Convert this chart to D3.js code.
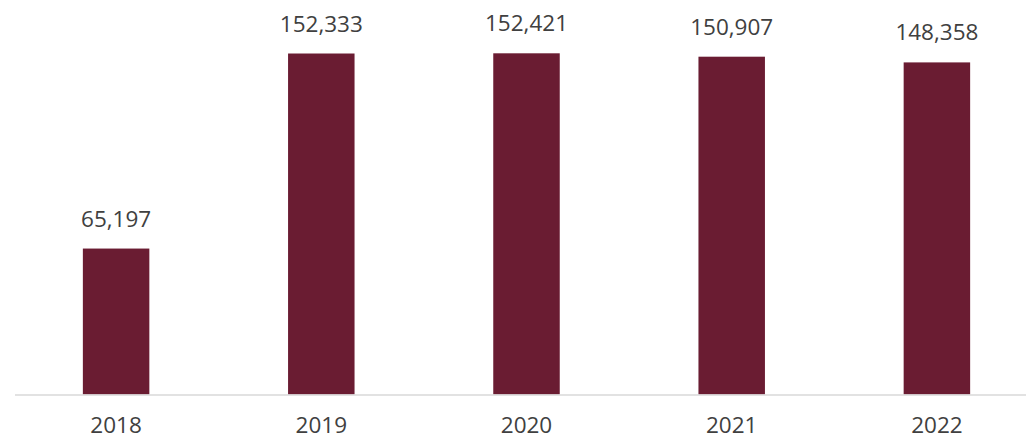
<!DOCTYPE html>
<html>
<head>
<meta charset="utf-8">
<script src="https://cdn.jsdelivr.net/npm/d3@7"></script>
<style>
  html, body { margin: 0; padding: 0; background: #fff; }
  svg { display: block; }
</style>
</head>
<body>
<div id="chart"></div>
<script>
const years = ['2018', '2019', '2020', '2021', '2022'];
const totals = [65197, 152333, 152421, 150907, 148358];

const width = 1026, height = 438;
const baseY = 394.5;

const svg = d3.select('#chart').append('svg')
    .attr('width', width)
    .attr('height', height);

// the plot runs a bit past the right edge, like the reference crop
let x = d3.scaleBand()
    .domain(years)
    .range([13.5, 1039.5])
    .paddingInner(0.676)
    .paddingOuter(0.338);

let y = d3.scaleLinear()
    .domain([0, 152421])
    .range([baseY, baseY - 152421 * 0.0022385]);

const data = years.map((yr, i) => ({year: yr, value: totals[i]}));

svg.selectAll('rect.bar')
    .data(data)
    .enter().append('rect')
    .attr('class', 'bar')
    .attr('x', d => x(d.year))
    .attr('y', d => y(d.value))
    .attr('width', x.bandwidth())
    .attr('height', d => baseY - y(d.value))
    .attr('fill', '#6a1c32');

// baseline
svg.append('line')
    .attr('x1', 15)
    .attr('x2', width)
    .attr('y1', baseY + 0.5)
    .attr('y2', baseY + 0.5)
    .attr('stroke', '#d9d9d9')
    .attr('stroke-width', 1.5);

const font = '"Open Sans", sans-serif';

// value labels
svg.selectAll('text.val')
    .data(data)
    .enter().append('text')
    .attr('class', 'val')
    .attr('x', d => x(d.year) + x.bandwidth() / 2)
    .attr('y', d => y(d.value) - 22)
    .attr('text-anchor', 'middle')
    .attr('font-family', font)
    .attr('font-size', 22.5)
    .attr('fill', '#404040')
    .text(d => d3.format(',')(d.value));

// year labels
svg.selectAll('text.yr')
    .data(years)
    .enter().append('text')
    .attr('class', 'yr')
    .attr('x', d => x(d) + x.bandwidth() / 2)
    .attr('y', 433)
    .attr('text-anchor', 'middle')
    .attr('font-family', font)
    .attr('font-size', 22.5)
    .attr('fill', '#404040')
    .text(d => d);
</script>
</body>
</html>
